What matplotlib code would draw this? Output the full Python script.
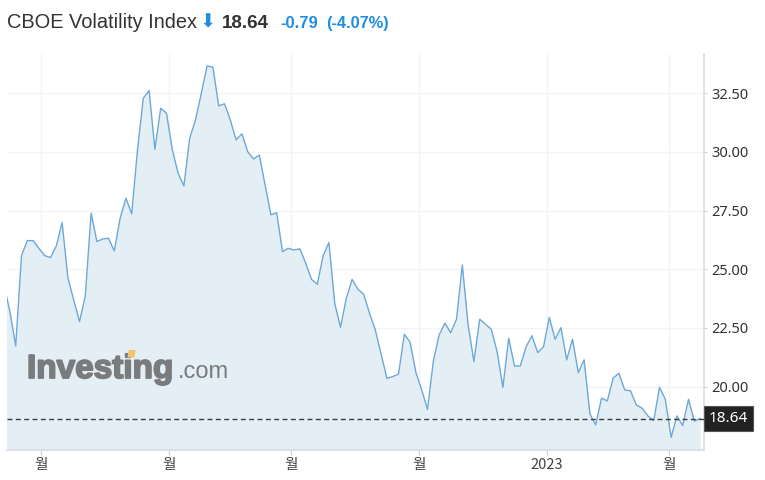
import matplotlib
matplotlib.use('Agg')
import matplotlib.pyplot as plt
import matplotlib.transforms as mtransforms
import matplotlib.patheffects as pe
from matplotlib.patches import Polygon

plt.rcParams['font.family'] = ['Noto Sans CJK KR', 'DejaVu Sans']

# daily closes (trading days), first two points sit at / beyond the left edge
vix = [24.30, 23.20,
       21.73, 25.58, 26.22, 26.22, 25.89, 25.58, 25.50, 25.99, 26.99, 24.64,
       23.69, 22.77, 23.86, 27.39, 26.18, 26.29, 26.32, 25.78, 27.17, 28.03,
       27.36, 30.09, 32.29, 32.61, 30.11, 31.86, 31.65, 30.09, 29.09, 28.55,
       30.58, 31.36, 32.50, 33.66, 33.61, 31.96, 32.05, 31.36, 30.51, 30.77,
       30.01, 29.70, 29.86, 28.59, 27.32, 27.41, 25.75, 25.89, 25.82, 25.87,
       25.26, 24.57, 24.36, 25.57, 26.14, 23.55, 22.53, 23.76, 24.57, 24.15,
       23.93, 23.13, 22.41, 21.39, 20.35, 20.43, 20.53, 22.23, 21.89, 20.60,
       19.86, 19.03, 21.07, 22.20, 22.70, 22.30, 22.87, 25.18, 22.63, 21.07,
       22.87, 22.66, 22.44, 21.49, 19.97, 22.06, 20.88, 20.88, 21.70, 22.17,
       21.45, 21.70, 22.95, 22.02, 22.51, 21.14, 22.02, 20.60, 21.14, 18.84,
       18.37, 19.51, 19.39, 20.36, 20.57, 19.86, 19.82, 19.22, 19.08, 18.75,
       18.55, 19.97, 19.46, 17.84, 18.75, 18.34, 19.46, 18.53, 18.64]
last_price = 18.64
change = '-0.79'
change_pct = '(-4.07%)'

x_tick_pos = [6.36, 28.45, 49.47, 71.53, 93.60, 114.64]
x_tick_labels = ['월', '월', '월', '월', '2023', '월']
y_ticks = [20.0, 22.5, 25.0, 27.5, 30.0, 32.5]

days = list(range(len(vix)))

fig = plt.figure(figsize=(7.65, 4.8), dpi=100)
ax = fig.add_axes([7/765, 30/480, 697/765, 396/480])

ymin, ymax = 17.30, 34.17
ax.fill_between(days, vix, ymin, color='#e4eef5', lw=0, zorder=1)
ax.plot(days, vix, color='#6ea8d7', lw=1.0, zorder=3)
ax.axhline(last_price, color='#3c3c3c', lw=1.0, dashes=(3.6, 2.4), zorder=4)

ax.set_xlim(0.5, 120.67)
ax.set_ylim(ymin, ymax)

ax.set_xticks(x_tick_pos)
ax.set_xticklabels(x_tick_labels)
ax.set_yticks(y_ticks)
ax.set_yticklabels(['%.2f' % v for v in y_ticks])
ax.yaxis.tick_right()

ax.grid(True, color='#f3f3f5', lw=1.0, zorder=0)
ax.set_axisbelow(True)
for s in ['top', 'left']:
    ax.spines[s].set_visible(False)
for s in ['right', 'bottom']:
    ax.spines[s].set_color('#dadde6')
    ax.spines[s].set_linewidth(1.2)

ax.tick_params(axis='y', length=2.5, width=0.8, color='#c9cdd8', pad=3,
               labelsize=10.5, labelcolor='#333333')
ax.tick_params(axis='x', length=3.6, width=0.8, color='#c9cdd8', pad=2,
               labelsize=10.5, labelcolor='#444444')
for lab in ax.get_yticklabels():
    lab.set_family(['Noto Sans', 'DejaVu Sans'])

# last price tag on the right axis
trans = mtransforms.blended_transform_factory(ax.transAxes, ax.transData)
ax.text(1.0 + 5/697, last_price, '%.2f' % last_price, transform=trans,
        ha='left', va='center', color='white', fontsize=11,
        family=['Noto Sans', 'DejaVu Sans'], zorder=6, clip_on=False,
        bbox=dict(boxstyle='square,pad=0.3', fc='#222222', ec='#555555', lw=0.8))

# header
def px(x, y):
    return x / 765, 1 - y / 480

fig.text(*px(7, 28), 'CBOE Volatility Index', fontsize=14.4, color='#333333',
         family='Liberation Sans', va='baseline')
fig.text(*px(200, 28), '⬇', fontsize=14, color='#1e8ee3',
         family='DejaVu Sans', va='baseline')
fig.text(*px(222, 28), '%.2f' % last_price, fontsize=13.5, weight='bold',
         color='#333333', family='Liberation Sans', va='baseline')
fig.text(*px(280, 28), change, fontsize=12, weight='bold', color='#1e8ee3',
         family='Liberation Sans', va='baseline')
fig.text(*px(326, 28), change_pct, fontsize=11.8, weight='bold', color='#1e8ee3',
         family='Liberation Sans', va='baseline')

# watermark
thick = [pe.withStroke(linewidth=1.3, foreground='#797b7d')]
fig.text(*px(27, 378), 'Investing', fontsize=24, weight='bold',
         color='#797b7d', family='Liberation Sans', va='baseline', zorder=5,
         path_effects=thick)
fig.text(*px(178, 378), '.com', fontsize=17, color='#797b7d',
         family='Liberation Sans', va='baseline', zorder=5)
dot = [(127.5, 357.5), (134.5, 357.5), (135.5, 350), (128.5, 350)]
fig.patches.append(Polygon([px(a, b) for a, b in dot], closed=True,
                           transform=fig.transFigure, fc='#f2c46a', ec='none',
                           zorder=6))

plt.savefig('out.png', dpi=100)
